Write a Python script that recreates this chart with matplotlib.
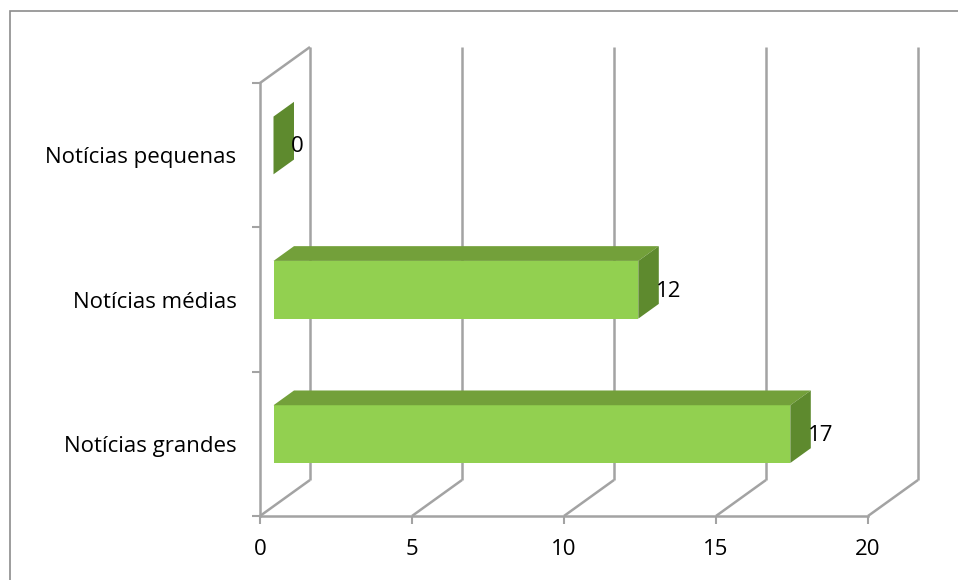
import matplotlib.pyplot as plt
from matplotlib.patches import Polygon, Rectangle

categories = ["Notícias grandes", "Notícias médias", "Notícias pequenas"]
values = [17, 12, 0]
xticks = [0, 5, 10, 15, 20]

FRONT = "#92D050"
TOP = "#73A03A"
SIDE = "#5E8A2E"
GRID = "#A3A3A3"
FS = 16

plt.rcParams['font.family'] = ['Open Sans', 'DejaVu Sans']

fig = plt.figure(figsize=(9.58, 5.8), dpi=100)
ax = fig.add_axes([260 / 958, 64 / 580, 608 / 958, 433 / 580])
ax.set_xlim(0, 20)
ax.set_ylim(0, 3)

# depth of the 3d box, in data units
DX = 50 / 30.4
DY = 36 / 144.33


def proj(v, c, d):
    return (v + d * DX, c + d * DY)


# walls / gridlines
line_kw = dict(color=GRID, lw=1.8, clip_on=False, zorder=1, solid_capstyle='butt')
for t in xticks:
    x0, y0 = proj(t, 0, 0)
    x1, y1 = proj(t, 0, 1)
    ax.plot([x0, x1], [y0, y1], **line_kw)
    x2, y2 = proj(t, 3, 1)
    ax.plot([x1, x2], [y1, y2], **line_kw)
x0, y0 = proj(0, 3, 0)
x1, y1 = proj(0, 3, 1)
ax.plot([x0, x1], [y0, y1], **line_kw)

for s in ['top', 'right']:
    ax.spines[s].set_visible(False)
for s in ['left', 'bottom']:
    ax.spines[s].set_color(GRID)
    ax.spines[s].set_linewidth(1.8)

# bars
f0, f1 = 0.27, 0.68
h = 0.2
for i, val in enumerate(values):
    c = i + 0.5
    front = [proj(0, c - h, f0), proj(val, c - h, f0), proj(val, c + h, f0), proj(0, c + h, f0)]
    top = [proj(0, c + h, f0), proj(val, c + h, f0), proj(val, c + h, f1), proj(0, c + h, f1)]
    side = [proj(val, c - h, f0), proj(val, c + h, f0), proj(val, c + h, f1), proj(val, c - h, f1)]
    ax.add_patch(Polygon(front, closed=True, fc=FRONT, ec='none', zorder=3, clip_on=False))
    ax.add_patch(Polygon(top, closed=True, fc=TOP, ec='none', zorder=3, clip_on=False))
    ax.add_patch(Polygon(side, closed=True, fc=SIDE, ec='none', zorder=3, clip_on=False))
    lx, _ = proj(val, c, (f0 + f1) / 2)
    _, ly = proj(val, c, f0)
    ax.annotate(str(val), (lx, ly), xytext=(5, -1), textcoords='offset points',
                ha='left', va='center', fontsize=FS, zorder=4, annotation_clip=False)

ax.set_xticks(xticks)
ax.set_xticklabels([str(t) for t in xticks], fontsize=FS)
ax.set_yticks([0, 1, 2, 3])
ax.set_yticklabels([])
ax.set_yticks([0.5, 1.5, 2.5], minor=True)
ax.set_yticklabels(categories, minor=True, fontsize=FS, va='center_baseline')
ax.tick_params(axis='x', direction='out', length=5.8, width=1.5, color=GRID, pad=11)
ax.tick_params(axis='y', which='major', direction='out', length=5.8, width=1.5, color=GRID)
ax.tick_params(axis='y', which='minor', length=0, pad=17)
ax.patch.set_visible(False)

# outer chart border
fig.patches.append(Rectangle((10 / 958, -0.1), 1.2, 1 - 11 / 580 + 0.1, transform=fig.transFigure,
                             fill=False, ec="#8C8C8C", lw=1.2))

fig.savefig("out.png", dpi=100)
